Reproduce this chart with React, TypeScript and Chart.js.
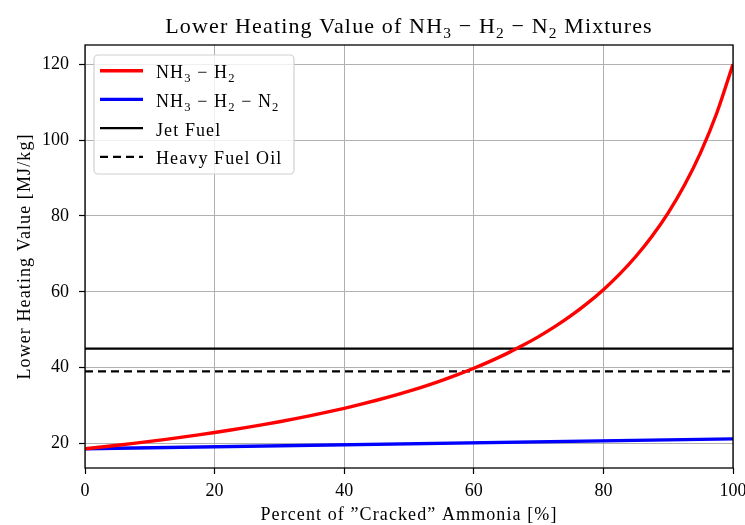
import React, { useEffect, useRef } from "react";
import { Chart, registerables } from "chart.js";

Chart.register(...registerables);

// ---- data ----
const crackedPct = [0, 2.5, 5, 7.5, 10, 12.5, 15, 17.5, 20, 22.5, 25, 27.5, 30, 32.5, 35, 37.5, 40, 42.5, 45, 47.5, 50, 52.5, 55, 57.5, 60, 62.5, 65, 67.5, 70, 72.5, 75, 77.5, 80, 82.5, 85, 87.5, 90, 92.5, 95, 97.5, 100];
const lhvNH3H2 = [18.6, 19.06, 19.53, 20.03, 20.55, 21.09, 21.66, 22.26, 22.88, 23.54, 24.23, 24.96, 25.73, 26.54, 27.4, 28.31, 29.27, 30.3, 31.39, 32.56, 33.81, 35.15, 36.59, 38.14, 39.82, 41.65, 43.63, 45.8, 48.17, 50.8, 53.7, 56.93, 60.56, 64.65, 69.3, 74.64, 80.82, 88.08, 96.7, 107.13, 120.0];
const crackedPctN2 = [0, 100];
const lhvNH3H2N2 = [18.6, 21.2];
const refX = [0, 100];
const jetFuel = [45, 45];
const heavyFuelOil = [39, 39];
const xTicks = [0, 20, 40, 60, 80, 100];
const yTicks = [20, 40, 60, 80, 100, 120];

const xTitle = "Percent of ”Cracked” Ammonia [%]";
const yTitle = "Lower Heating Value [MJ/kg]";

const FONT = "'Liberation Serif', 'DejaVu Serif', serif";

type Seg = { t: string; sub?: boolean };

function setSpacing(ctx: CanvasRenderingContext2D, px: number) {
  (ctx as any).letterSpacing = `${px}px`;
}

function richWidth(ctx: CanvasRenderingContext2D, segs: Seg[], size: number, ls: number) {
  let w = 0;
  setSpacing(ctx, ls);
  for (const s of segs) {
    ctx.font = `${s.sub ? size * 0.7 : size}px ${FONT}`;
    w += ctx.measureText(s.t).width;
  }
  return w;
}

function drawRich(ctx: CanvasRenderingContext2D, segs: Seg[], x: number, y: number, size: number, align: "left" | "center", ls: number) {
  ctx.save();
  const total = richWidth(ctx, segs, size, ls);
  let cx = align === "center" ? x - total / 2 : x;
  ctx.fillStyle = "#000";
  ctx.textAlign = "left";
  ctx.textBaseline = "alphabetic";
  setSpacing(ctx, ls);
  for (const s of segs) {
    const fs = s.sub ? size * 0.7 : size;
    ctx.font = `${fs}px ${FONT}`;
    ctx.fillText(s.t, cx, s.sub ? y + size * 0.22 : y);
    cx += ctx.measureText(s.t).width;
  }
  ctx.restore();
}

const titleSegs: Seg[] = [
  { t: "Lower Heating Value of NH" }, { t: "3", sub: true }, { t: " − H" }, { t: "2", sub: true }, { t: " − N" }, { t: "2", sub: true }, { t: " Mixtures" },
];

const legendItems: { segs: Seg[]; color: string; width: number; dash: number[] }[] = [
  { segs: [{ t: "NH" }, { t: "3", sub: true }, { t: " − H" }, { t: "2", sub: true }], color: "#ff0000", width: 3.4, dash: [] },
  { segs: [{ t: "NH" }, { t: "3", sub: true }, { t: " − H" }, { t: "2", sub: true }, { t: " − N" }, { t: "2", sub: true }], color: "#0000ff", width: 3.4, dash: [] },
  { segs: [{ t: "Jet Fuel" }], color: "#000000", width: 2.2, dash: [] },
  { segs: [{ t: "Heavy Fuel Oil" }], color: "#000000", width: 2.2, dash: [8, 5] },
];

const decorPlugin = {
  id: "decor",
  afterDatasetsDraw(chart: any) {
    const ctx: CanvasRenderingContext2D = chart.ctx;
    const a = chart.chartArea;
    ctx.save();
    ctx.strokeStyle = "#000";
    ctx.lineWidth = 1.3;
    ctx.strokeRect(a.left, a.top, a.right - a.left, a.bottom - a.top);
    ctx.restore();
  },
  afterDraw(chart: any) {
    const ctx: CanvasRenderingContext2D = chart.ctx;
    const a = chart.chartArea;
    const cxm = (a.left + a.right) / 2;
    const cym = (a.top + a.bottom) / 2;
    // title
    drawRich(ctx, titleSegs, cxm, 33, 22, "center", 1.15);
    // axis titles
    drawRich(ctx, [{ t: xTitle }], cxm, 520, 18, "center", 1.1);
    ctx.save();
    ctx.translate(30, cym);
    ctx.rotate(-Math.PI / 2);
    drawRich(ctx, [{ t: yTitle }], 0, 0, 18, "center", 1.1);
    ctx.restore();
    // legend
    const bx = a.left + 9, by = a.top + 10, bw = 200, bh = 119;
    ctx.save();
    ctx.beginPath();
    if ((ctx as any).roundRect) (ctx as any).roundRect(bx, by, bw, bh, 4);
    else ctx.rect(bx, by, bw, bh);
    ctx.fillStyle = "rgba(255,255,255,0.8)";
    ctx.fill();
    ctx.strokeStyle = "#d0d0d0";
    ctx.lineWidth = 1.2;
    ctx.stroke();
    ctx.restore();
    legendItems.forEach((it, i) => {
      const ly = by + 15.7 + i * 28.7;
      ctx.save();
      ctx.strokeStyle = it.color;
      ctx.lineWidth = it.width;
      ctx.setLineDash(it.dash);
      ctx.beginPath();
      ctx.moveTo(bx + 6, ly);
      ctx.lineTo(bx + 49, ly);
      ctx.stroke();
      ctx.restore();
      drawRich(ctx, it.segs, bx + 62, ly + 7.5, 18, "left", 1.1);
    });
  },
};

export default function App() {
  const ref = useRef<HTMLCanvasElement>(null);
  useEffect(() => {
    if (!ref.current) return;
    const pts = (xs: number[], ys: number[]) => xs.map((x, i) => ({ x, y: ys[i] }));
    const chart = new Chart(ref.current, {
      type: "line",
      data: {
        datasets: [
          { label: "NH3 − H2", data: pts(crackedPct, lhvNH3H2), borderColor: "#ff0000", borderWidth: 3.4, pointRadius: 0, cubicInterpolationMode: "monotone", clip: 0 } as any,
          { label: "NH3 − H2 − N2", data: pts(crackedPctN2, lhvNH3H2N2), borderColor: "#0000ff", borderWidth: 3.4, pointRadius: 0, clip: 0 } as any,
          { label: "Jet Fuel", data: pts(refX, jetFuel), borderColor: "#000000", borderWidth: 2.2, pointRadius: 0, clip: 0 } as any,
          { label: "Heavy Fuel Oil", data: pts(refX, heavyFuelOil), borderColor: "#000000", borderWidth: 2.2, borderDash: [8, 5], pointRadius: 0, clip: 0 } as any,
        ],
      },
      options: {
        animation: false,
        responsive: false,
        devicePixelRatio: 1,
        layout: { padding: { left: 0, top: 45, right: 12, bottom: 0 } },
        plugins: { legend: { display: false }, tooltip: { enabled: false }, title: { display: false } },
        scales: {
          x: {
            type: "linear",
            min: 0,
            max: 100,
            afterBuildTicks: (s: any) => { s.ticks = xTicks.map((v) => ({ value: v })); },
            afterFit: (s: any) => { s.height = 57; s.paddingLeft = 0; s.paddingRight = 0; },
            grid: { color: "#b0b0b0", lineWidth: 1, tickColor: "#000", tickLength: 6, tickWidth: 1.2 },
            border: { display: false },
            ticks: { color: "#000", font: { family: FONT, size: 18 }, padding: 6, maxRotation: 0, autoSkip: false },
          },
          y: {
            type: "linear",
            min: 13.53,
            max: 125.07,
            afterBuildTicks: (s: any) => { s.ticks = yTicks.map((v) => ({ value: v })); },
            afterFit: (s: any) => { s.width = 85; s.paddingTop = 0; s.paddingBottom = 0; },
            grid: { color: "#b0b0b0", lineWidth: 1, tickColor: "#000", tickLength: 6, tickWidth: 1.2 },
            border: { display: false },
            ticks: { color: "#000", font: { family: FONT, size: 18 }, padding: 10 },
          },
        },
      },
      plugins: [decorPlugin],
    } as any);
    return () => chart.destroy();
  }, []);
  return (
    <div style={{ position: "fixed", left: 0, top: 0, width: 745, height: 525, background: "#fff" }}>
      <canvas ref={ref} width={745} height={525} />
    </div>
  );
}
